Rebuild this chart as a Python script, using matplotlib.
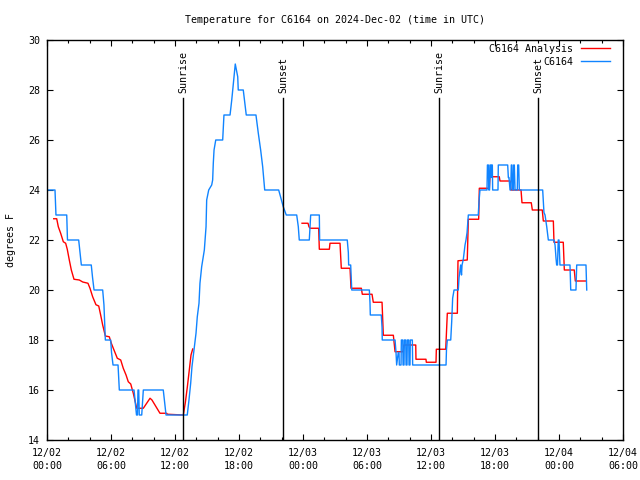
import numpy as np
import pandas as pd
import matplotlib
matplotlib.use("Agg")
import matplotlib.pyplot as plt
import matplotlib.dates as mdates

# ---------------- data ----------------
start = pd.Timestamp("2024-12-02 00:00")

obs_hours = [0.00, 0.75, 0.84, 1.85, 1.92, 2.97, 3.09, 3.22, 4.15, 4.27, 4.41, 5.22, 5.34, 5.47,
             5.97, 6.05, 6.19, 6.66, 6.78, 8.16, 8.39, 8.48, 8.53, 8.60, 8.65, 8.88, 9.03, 10.90,
             11.16, 13.15, 13.31, 13.47, 13.59, 13.78, 13.97, 14.09, 14.25, 14.34, 14.50, 14.65,
             14.75, 14.84, 14.91, 14.97, 15.16, 15.44, 15.53, 15.59, 15.66, 15.82, 16.47, 16.59,
             17.16, 17.32, 17.47, 17.65, 17.88, 17.93, 18.40, 18.68, 19.59, 19.81, 20.03, 20.22,
             20.41, 21.72, 22.15, 22.43, 23.41, 23.56, 23.65, 24.59, 24.72, 25.53, 25.56, 28.15,
             28.25, 28.28, 28.47, 28.57, 30.22, 30.28, 30.31, 31.34, 31.41, 31.43, 32.63, 32.72,
             32.78, 32.93, 33.00, 33.03, 33.19, 33.22, 33.35, 33.38, 33.47, 33.50, 33.63, 33.66,
             33.75, 33.78, 33.91, 33.94, 34.03, 34.06, 34.25, 34.28, 34.66, 37.41, 37.45, 37.53,
             37.85, 37.94, 38.03, 38.16, 38.56, 38.63, 38.78, 38.86, 38.91, 39.03, 39.19, 39.28,
             39.38, 39.50, 40.43, 40.50, 40.59, 41.25, 41.29, 41.38, 41.42, 41.49, 41.53, 41.61,
             41.64, 41.70, 41.75, 41.78, 42.28, 42.31, 43.19, 43.25, 43.31, 43.41, 43.47, 43.53,
             43.59, 43.64, 43.72, 43.75, 43.81, 43.88, 44.09, 44.13, 44.22, 44.28, 46.47, 46.59,
             46.69, 46.85, 47.00, 47.53, 47.63, 47.72, 47.78, 47.86, 47.93, 48.00, 48.09, 49.03,
             49.10, 49.59, 49.66, 50.53, 50.60]
obs_temp = [24, 24, 23, 23, 22, 22, 21.5, 21, 21, 20.5, 20, 20, 19.4, 18,
            18, 17.5, 17, 17, 16, 16, 15, 15, 16, 16, 15, 15, 16, 16,
            15, 15, 15.6, 16.27, 16.93, 17.6, 18.27, 18.93, 19.47, 20.27, 20.93, 21.33,
            21.6, 22.13, 22.53, 23.6, 24, 24.2, 24.4, 25.07, 25.6, 26, 26, 27,
            27, 27.6, 28.27, 29.04, 28.53, 28, 28, 27, 27, 26.27, 25.6, 24.93,
            24, 24, 23.33, 23, 23, 22.53, 22, 22, 23, 23, 22, 22,
            21.5, 21, 21, 20, 20, 19.5, 19, 19, 18.5, 18, 18, 17.5,
            17, 17.5, 17.5, 17, 17, 18, 18, 17, 17, 18, 18, 17,
            17, 18, 18, 17, 17, 18, 18, 17, 17, 17, 17.6, 18,
            18, 18.73, 19.67, 20, 20, 20.5, 21, 20.6, 21, 21.23, 21.8, 22,
            22.3, 23, 23, 23.53, 24, 24, 25, 25, 24, 24, 25, 25,
            24.5, 25, 25, 24, 24, 25, 25, 24.5, 24.5, 24, 24, 25,
            25, 24, 24, 25, 25, 24, 24, 25, 25, 24, 24, 23.1,
            23, 22.53, 22, 22, 21.8, 21.27, 21, 21, 22, 22, 21, 21,
            20, 20, 21, 21, 20]

ana_hours = [0.63, 0.91, 1.06, 1.28, 1.53, 1.75, 1.90, 2.09, 2.28, 2.53, 3.03, 3.35, 3.84, 4.03,
             4.28, 4.59, 4.85, 5.03, 5.22, 5.47, 5.84, 6.03, 6.28, 6.59, 6.91, 7.15, 7.41, 7.62,
             7.85, 8.09, 8.41, 9.03, 9.66, 9.84, 10.59, 11.22, 11.28, 12.78, 12.97, 13.15, 13.34,
             13.50, 13.66, 18.0,
             23.91, 24.47, 24.56, 24.66, 25.47, 25.53, 26.47, 26.53, 27.47, 27.59, 28.41, 28.50,
             29.47, 29.56, 30.47, 30.59, 31.41, 31.53, 32.47, 32.63, 33.38, 33.47, 34.57, 34.59,
             35.53, 35.56, 36.47, 36.50, 37.38, 37.53, 38.47, 38.53, 39.40, 39.50, 40.47, 40.53,
             41.47, 41.53, 42.40, 42.47, 43.41, 43.50, 44.44, 44.53, 45.40, 45.50, 46.43, 46.53,
             47.47, 47.53, 48.40, 48.50, 49.43, 49.53, 50.53]
ana_temp = [22.85, 22.85, 22.53, 22.27, 21.93, 21.87, 21.63, 21.2, 20.8, 20.43, 20.4, 20.32, 20.27, 20.07,
            19.73, 19.41, 19.36, 19.0, 18.6, 18.16, 18.13, 17.87, 17.6, 17.27, 17.2, 16.87, 16.6, 16.33,
            16.24, 15.87, 15.27, 15.27, 15.67, 15.6, 15.07, 15.07, 15.03, 15.0, 15.5, 16.1, 16.8,
            17.4, 17.64, np.nan,
            22.67, 22.67, 22.53, 22.47, 22.47, 21.63, 21.63, 21.87, 21.87, 20.87, 20.87, 20.07,
            20.07, 19.83, 19.83, 19.51, 19.51, 18.19, 18.19, 17.53, 17.53, 17.8, 17.8, 17.23,
            17.23, 17.11, 17.11, 17.63, 17.63, 19.07, 19.07, 21.17, 21.2, 22.83, 22.83, 24.07,
            24.07, 24.53, 24.53, 24.36, 24.36, 24.0, 24.0, 23.49, 23.49, 23.2, 23.2, 22.76,
            22.76, 21.91, 21.91, 20.8, 20.8, 20.36, 20.36]

sun_hours = [12.78, 22.16, 36.78, 46.06]
sun_labels = ["Sunrise", "Sunset", "Sunrise", "Sunset"]

series_names = ["C6164 Analysis", "C6164"]
title = "Temperature for C6164 on 2024-Dec-02 (time in UTC)"
ylabel = "degrees F"

# ---------------- plot ----------------
plt.rcParams["font.family"] = ["DejaVu Sans Mono"]
FS = 7.2

fig = plt.figure(figsize=(6.4, 4.8), dpi=100)
ax = fig.add_axes([47 / 640, 40 / 480, 576 / 640, 400 / 480])

obs_t = start + pd.to_timedelta(obs_hours, unit="h")
ana_t = start + pd.to_timedelta(ana_hours, unit="h")
sun_t = start + pd.to_timedelta(sun_hours, unit="h")

ax.plot(ana_t, ana_temp, color="#ff0000", lw=1.0, label=series_names[0])
ax.plot(obs_t, obs_temp, color="#1084ff", lw=1.0, label=series_names[1])

for t, lab in zip(sun_t, sun_labels):
    ax.axvline(t, ymin=0, ymax=0.855, color="black", lw=1.0)
    ax.text(t, 0.8675, lab, rotation=90, ha="center", va="bottom",
            fontsize=FS, transform=ax.get_xaxis_transform())

ax.set_xlim(start, start + pd.Timedelta(hours=54))
ax.set_ylim(14, 30)
ax.set_yticks(np.arange(14, 31, 2))

ax.xaxis.set_major_locator(mdates.HourLocator(byhour=[0, 6, 12, 18]))
ax.xaxis.set_minor_locator(mdates.HourLocator(byhour=list(range(0, 24, 2))))
ax.xaxis.set_major_formatter(mdates.DateFormatter("%m/%d\n%H:%M"))

ax.tick_params(axis="both", which="both", direction="in", top=True, right=True,
               labelsize=FS, width=0.8)
ax.tick_params(axis="both", which="major", length=4.5)
ax.tick_params(axis="both", which="minor", length=2.2)
ax.tick_params(axis="x", which="major", pad=6)
ax.tick_params(axis="y", which="major", pad=5)
for lab in ax.get_xticklabels():
    lab.set_linespacing(1.35)

for s in ax.spines.values():
    s.set_linewidth(1.0)

ax.set_title(title, fontsize=FS, pad=12)
ax.set_ylabel(ylabel, fontsize=FS, labelpad=9)

leg = ax.legend(loc="upper right", bbox_to_anchor=(0.977, 0.99), frameon=False,
                fontsize=FS, markerfirst=False, handlelength=2.85, handletextpad=0.8,
                borderaxespad=0.0, borderpad=0.0, labelspacing=0.3)

fig.savefig("out.png", dpi=100)
